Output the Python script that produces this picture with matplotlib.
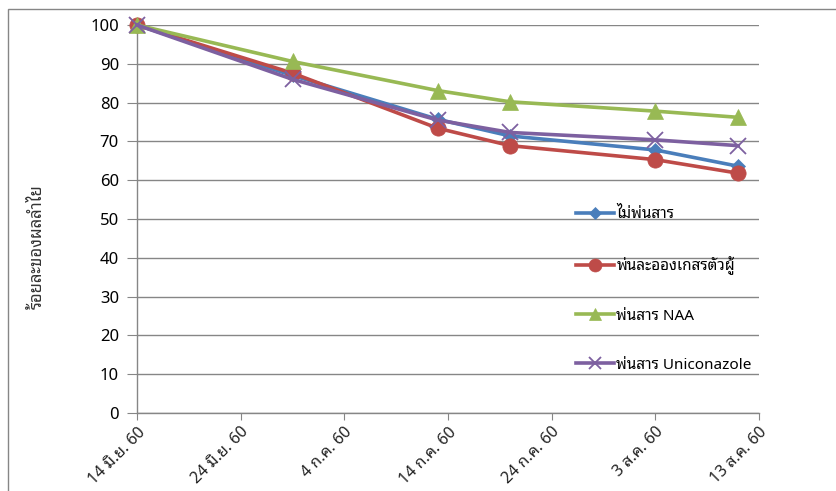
import matplotlib
matplotlib.use("Agg")
import matplotlib.pyplot as plt
from matplotlib import font_manager as fm
from matplotlib.patches import Rectangle
import pandas as pd

# ---------- data ----------
start_date = "2017-06-14"
obs_dates = ["2017-06-14", "2017-06-29", "2017-07-13", "2017-07-20", "2017-08-03", "2017-08-11"]
tick_dates = ["2017-06-14", "2017-06-24", "2017-07-04", "2017-07-14", "2017-07-24", "2017-08-03", "2017-08-13"]
tick_labels = ["14 มิ.ย. 60", "24 มิ.ย. 60", "4 ก.ค. 60", "14 ก.ค. 60", "24 ก.ค. 60", "3 ส.ค. 60", "13 ส.ค. 60"]

no_spray = [100, 87.0, 75.7, 71.4, 67.8, 63.6]
pollen_spray = [100, 87.6, 73.4, 68.9, 65.3, 61.8]
naa_spray = [100, 90.6, 83.1, 80.2, 77.8, 76.2]
uniconazole_spray = [100, 86.0, 75.5, 72.3, 70.4, 68.9]

series_names = ["ไม่พ่นสาร", "พ่นละอองเกสรตัวผู้", "พ่นสาร NAA", "พ่นสาร Uniconazole"]
y_label = "ร้อยละของผลลำไย"


# ---------- font with Thai glyphs ----------
def find_thai_family():
    try:
        from fontTools.ttLib import TTFont
    except Exception:
        return None
    cands = []
    for f in fm.fontManager.ttflist:
        try:
            tt = TTFont(f.fname, fontNumber=0, lazy=True)
            cmap = tt.getBestCmap() or {}
            if 0x0E1E in cmap and 0x0E48 in cmap:
                score = 0
                n = f.name.lower()
                if "thai" in n:
                    score += 2
                if "sans" in n:
                    score += 1
                if "looped" in n:
                    score += 1
                cands.append((score, f.name))
        except Exception:
            continue
    if not cands:
        return None
    cands.sort(reverse=True)
    return cands[0][1]


thai = find_thai_family()
families = ([thai] if thai else []) + ["DejaVu Sans"]
plt.rcParams["font.family"] = families

# ---------- plot ----------
W, H = 837, 491
fig = plt.figure(figsize=(W / 100, H / 100), dpi=100)
ax = fig.add_axes([137 / W, 1 - 413 / H, (759 - 137) / W, (413 - 25) / H])

x0 = pd.Timestamp(start_date)
xs = [(pd.Timestamp(d) - x0).days for d in obs_dates]
xt = [(pd.Timestamp(d) - x0).days for d in tick_dates]

colors = ["#4A7EBB", "#BE4B48", "#98B954", "#7D60A0"]
markers = ["D", "o", "^", "x"]
msizes = [7, 11, 11, 11]
data = [no_spray, pollen_spray, naa_spray, uniconazole_spray]

for vals, c, m, ms, name in zip(data, colors, markers, msizes, series_names):
    ax.plot(xs, vals, color=c, lw=2.6, marker=m, markersize=ms,
            markeredgewidth=1.3 if m == "x" else 0.5, markeredgecolor=c,
            label=name, clip_on=False, zorder=3)

ax.set_xlim(xt[0], xt[-1])
ax.set_ylim(0, 100)
ax.set_yticks(range(0, 101, 10))
ax.set_xticks(xt)
ax.set_xticklabels(tick_labels, rotation=45, ha="right", rotation_mode="anchor",
                   fontsize=11.5, color="#222222")
ax.tick_params(axis="y", labelsize=12, length=7, color="#868686", pad=6, labelcolor="black")
ax.tick_params(axis="x", length=5, color="#868686", pad=3)
ax.grid(axis="y", color="#868686", lw=1.0, zorder=0)
ax.set_axisbelow(True)
for s in ["top", "right"]:
    ax.spines[s].set_visible(False)
for s in ["left", "bottom"]:
    ax.spines[s].set_color("#868686")
    ax.spines[s].set_linewidth(1.0)

fig.text(38 / W, 1 - 247 / H, y_label, rotation=90, ha="center", va="center", fontsize=12, color="#333333")

leg = fig.legend(loc="upper left", bbox_to_anchor=(576 / W, 1 - 207 / H), frameon=False,
                 fontsize=11, labelspacing=2.22, handlelength=2.5, handletextpad=0.15,
                 borderpad=0, borderaxespad=0, markerscale=0.85)

# outer chart frame
fig.patches.append(Rectangle((8 / W, -0.1), 1.2, (1 - 9 / H) + 0.1, transform=fig.transFigure,
                             fill=False, edgecolor="#868686", lw=1.0))

fig.savefig("out.png", dpi=100)
